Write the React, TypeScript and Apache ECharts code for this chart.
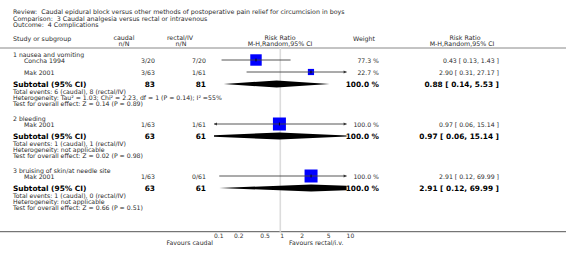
import React, { useEffect, useRef } from "react";
import * as echarts from "echarts";

const TITLE_LINES = [
  "Review:  Caudal epidural block versus other methods of postoperative pain relief for circumcision in boys",
  "Comparison:  3 Caudal analgesia versus rectal or intravenous",
  "Outcome:  4 Complications",
];

const GROUP_NAMES = ["1 nausea and vomiting", "2 bleeding", "3 bruising of skin/at needle site"];
const STUDY_GROUP = [0, 0, 1, 2];
const STUDY_NAMES = ["Concha 1994", "Mak 2001", "Mak 2001", "Mak 2001"];
const STUDY_CAUDAL = ["3/20", "3/63", "1/63", "1/63"];
const STUDY_RECTAL = ["7/20", "1/61", "1/61", "0/61"];
const STUDY_WEIGHT = [77.3, 22.7, 100.0, 100.0];
const STUDY_RR = [0.43, 2.9, 0.97, 2.91];
const STUDY_LO = [0.13, 0.31, 0.06, 0.12];
const STUDY_HI = [1.43, 27.17, 15.14, 69.99];

const SUB_CAUDAL_N = [83, 63, 63];
const SUB_RECTAL_N = [81, 61, 61];
const SUB_WEIGHT = [100.0, 100.0, 100.0];
const SUB_RR = [0.88, 0.97, 2.91];
const SUB_LO = [0.14, 0.06, 0.12];
const SUB_HI = [5.53, 15.14, 69.99];
const SUB_EVENTS = [
  "Total events: 6 (caudal), 8 (rectal/IV)",
  "Total events: 1 (caudal), 1 (rectal/IV)",
  "Total events: 1 (caudal), 0 (rectal/IV)",
];
const SUB_HET = [
  "Heterogeneity: Tau² = 1.03; Chi² = 2.23, df = 1 (P = 0.14); I² =55%",
  "Heterogeneity: not applicable",
  "Heterogeneity: not applicable",
];
const SUB_TEST = [
  "Test for overall effect: Z = 0.14 (P = 0.89)",
  "Test for overall effect: Z = 0.02 (P = 0.98)",
  "Test for overall effect: Z = 0.66 (P = 0.51)",
];

const AXIS_TICKS = [0.1, 0.2, 0.5, 1, 2, 5, 10];
const FAVOURS_LEFT = "Favours caudal";
const FAVOURS_RIGHT = "Favours rectal/i.v.";

const FONT = "'DejaVu Sans', Verdana, sans-serif";
const FS = 6.2;
const FSB = 7.4;

type Row = {
  kind: "heading" | "study" | "subtotal" | "info";
  y: number;
  idx: number;
  text?: string;
};

function buildRows(): Row[] {
  const rows: Row[] = [];
  let y = 54;
  GROUP_NAMES.forEach((g, gi) => {
    if (gi > 0) y += 14.5;
    rows.push({ kind: "heading", y, idx: gi, text: g });
    let first = true;
    STUDY_GROUP.forEach((sg, si) => {
      if (sg !== gi) return;
      y += first ? 6 : 12;
      first = false;
      rows.push({ kind: "study", y, idx: si });
    });
    y += 12;
    rows.push({ kind: "subtotal", y, idx: gi });
    y += 7.5;
    rows.push({ kind: "info", y, idx: gi, text: SUB_EVENTS[gi] });
    y += 6;
    rows.push({ kind: "info", y, idx: gi, text: SUB_HET[gi] });
    y += 6;
    rows.push({ kind: "info", y, idx: gi, text: SUB_TEST[gi] });
  });
  return rows;
}

const ROWS = buildRows();
const AXIS_Y = 231.7;
const HEADER_LINE_Y = 48;

const fmtCI = (e: number, l: number, h: number) =>
  `${e.toFixed(2)} [ ${l.toFixed(2)}, ${h.toFixed(2)} ]`;

function txt(text: string, x: number, y: number, opts: any = {}) {
  return {
    type: "text",
    x,
    y,
    silent: true,
    style: {
      text,
      fontSize: opts.size ?? FS,
      fontFamily: FONT,
      fontWeight: opts.bold ? "bold" : "normal",
      fill: opts.color ?? (opts.bold ? "#000000" : "#2a2a2a"),
      align: opts.align ?? "left",
      verticalAlign: "middle",
    },
  };
}

export default function App() {
  const ref = useRef<HTMLDivElement>(null);
  useEffect(() => {
    if (!ref.current) return;
    const chart = echarts.init(ref.current, undefined, { renderer: "svg" });
    const L = Math.log10;

    const renderItem = (params: any, api: any) => {
      const r = ROWS[params.dataIndex];
      const yPix = api.coord([0, r.y])[1];
      const xAt = (v: number) => api.coord([v, r.y])[0];
      const ch: any[] = [];
      if (r.kind === "heading" || r.kind === "info") {
        ch.push(txt(r.text!, 13, yPix));
      } else if (r.kind === "study") {
        const i = r.idx;
        ch.push(txt(STUDY_NAMES[i], 24, yPix));
        ch.push(txt(STUDY_CAUDAL[i], 155, yPix, { align: "right" }));
        ch.push(txt(STUDY_RECTAL[i], 206, yPix, { align: "right" }));
        ch.push(txt(STUDY_WEIGHT[i].toFixed(1) + " %", 379, yPix, { align: "right" }));
        ch.push(txt(fmtCI(STUDY_RR[i], STUDY_LO[i], STUDY_HI[i]), 499, yPix, { align: "right" }));
        const e = L(STUDY_RR[i]);
        const lo = L(STUDY_LO[i]);
        const hi = L(STUDY_HI[i]);
        const x0 = xAt(Math.max(lo, -1));
        const x1 = xAt(Math.min(hi, 1));
        const xe = xAt(e);
        const size = 13 * Math.sqrt(STUDY_WEIGHT[i] / 100);
        ch.push({
          type: "rect",
          shape: { x: xe - size / 2, y: yPix - size / 2, width: size, height: size },
          style: { fill: "#0000ff" },
        });
        ch.push({
          type: "line",
          shape: { x1: x0, y1: yPix, x2: x1, y2: yPix },
          style: { stroke: "#444", lineWidth: 0.9 },
        });
        ch.push({
          type: "line",
          shape: { x1: xe, y1: yPix - 1.5, x2: xe, y2: yPix + 1.5 },
          style: { stroke: "#000", lineWidth: 0.9 },
        });
        if (hi > 1) {
          ch.push({
            type: "polygon",
            shape: { points: [[x1, yPix], [x1 - 3, yPix - 1.5], [x1 - 3, yPix + 1.5]] },
            style: { fill: "#333" },
          });
        }
        if (lo < -1) {
          ch.push({
            type: "polygon",
            shape: { points: [[x0, yPix], [x0 + 3, yPix - 1.5], [x0 + 3, yPix + 1.5]] },
            style: { fill: "#333" },
          });
        }
      } else if (r.kind === "subtotal") {
        const g = r.idx;
        ch.push(txt("Subtotal (95% CI)", 13, yPix, { bold: true, size: FSB }));
        ch.push(txt(String(SUB_CAUDAL_N[g]), 155, yPix, { bold: true, size: FSB, align: "right" }));
        ch.push(txt(String(SUB_RECTAL_N[g]), 206, yPix, { bold: true, size: FSB, align: "right" }));
        ch.push(txt(SUB_WEIGHT[g].toFixed(1) + " %", 379, yPix, { bold: true, size: FSB, align: "right" }));
        ch.push(txt(fmtCI(SUB_RR[g], SUB_LO[g], SUB_HI[g]), 499, yPix, { bold: true, size: FSB, align: "right" }));
        const e = L(SUB_RR[g]);
        const lo = L(SUB_LO[g]);
        const hi = L(SUB_HI[g]);
        const h = 3.5;
        const pts: number[][] = [];
        if (lo < -1) {
          const hh = (h * (-1 - lo)) / (e - lo);
          pts.push([xAt(-1), yPix + hh], [xAt(-1), yPix - hh]);
        } else {
          pts.push([xAt(lo), yPix]);
        }
        pts.push([xAt(e), yPix - h]);
        if (hi > 1) {
          const hh = (h * (hi - 1)) / (hi - e);
          pts.push([xAt(1), yPix - hh], [xAt(1), yPix + hh]);
        } else {
          pts.push([xAt(hi), yPix]);
        }
        pts.push([xAt(e), yPix + h]);
        ch.push({ type: "polygon", shape: { points: pts }, style: { fill: "#000" } });
      }
      return { type: "group", children: ch };
    };

    const tickVals = AXIS_TICKS.map((t) => L(t));

    const graphics: any[] = [];
    TITLE_LINES.forEach((t, i) => graphics.push(txt(t, 13, 11.8 + i * 6.3, { size: 6.3 })));
    graphics.push(txt("Study or subgroup", 13, 38, { size: 6.3 }));
    graphics.push(txt("caudal", 124, 37.7, { size: 6.3, align: "center" }));
    graphics.push(txt("n/N", 124, 43.3, { size: 6.3, align: "center" }));
    graphics.push(txt("rectal/IV", 180, 37.7, { size: 6.3, align: "center" }));
    graphics.push(txt("n/N", 181, 43.3, { size: 6.3, align: "center" }));
    graphics.push(txt("Risk Ratio", 280, 37.7, { size: 6.3, align: "center" }));
    graphics.push(txt("M-H,Random,95% CI", 280, 43.5, { size: 6.3, align: "center" }));
    graphics.push(txt("Weight", 364, 38, { size: 6.3, align: "center" }));
    graphics.push(txt("Risk Ratio", 465, 37.7, { size: 6.3, align: "center" }));
    graphics.push(txt("M-H,Random,95% CI", 462, 43.5, { size: 6.3, align: "center" }));
    graphics.push({
      type: "line",
      shape: { x1: 0, y1: HEADER_LINE_Y, x2: 566, y2: HEADER_LINE_Y },
      style: { stroke: "#888", lineWidth: 1 },
    });
    graphics.push({
      type: "line",
      shape: { x1: 0, y1: AXIS_Y, x2: 566, y2: AXIS_Y },
      style: { stroke: "#555", lineWidth: 1 },
    });
    graphics.push(txt(FAVOURS_LEFT, 213, 242.7, { size: 6.2, align: "right" }));
    graphics.push(txt(FAVOURS_RIGHT, 289, 242.7, { size: 6.2 }));

    chart.setOption({
      animation: false,
      backgroundColor: "#fff",
      grid: { left: 214, width: 132.6, top: 0, height: AXIS_Y },
      xAxis: {
        type: "value",
        min: -1,
        max: 1,
        axisLine: { show: false },
        splitLine: { show: false },
        axisTick: {
          show: true,
          inside: true,
          length: 2,
          customValues: tickVals,
          lineStyle: { color: "#555", width: 0.8 },
        },
        axisLabel: {
          show: true,
          customValues: tickVals,
          fontSize: 6,
          fontFamily: FONT,
          color: "#333",
          margin: 1,
          align: "left",
          formatter: (v: number) => {
            const t = Math.pow(10, v);
            const r = Math.round(t * 10) / 10;
            return String(r);
          },
        },
      },
      yAxis: { type: "value", min: 0, max: AXIS_Y, inverse: true, show: false },
      graphic: graphics,
      series: [
        {
          type: "line",
          z: 1,
          symbol: "none",
          data: [
            [0, HEADER_LINE_Y],
            [0, AXIS_Y],
          ],
          lineStyle: { color: "#dcdcdc", width: 1.6 },
          silent: true,
        },
        {
          type: "custom",
          z: 3,
          clip: false,
          renderItem,
          data: ROWS.map((r) => [0, r.y]),
          silent: true,
        },
      ],
    });
    return () => chart.dispose();
  }, []);
  return (
    <div
      ref={ref}
      style={{ position: "fixed", left: 0, top: 0, width: 566, height: 261, background: "#fff" }}
    />
  );
}
